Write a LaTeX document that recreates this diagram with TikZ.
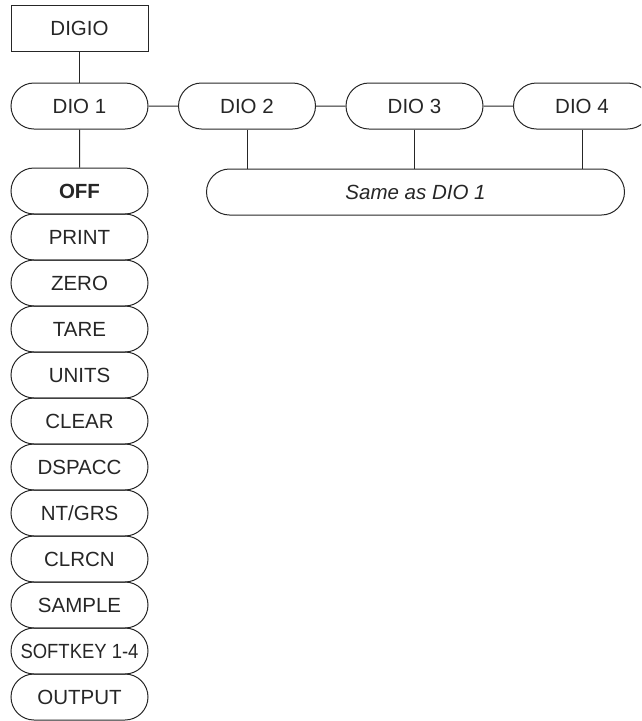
\documentclass[tikz,border=0pt]{standalone}
\usepackage{fontspec}
\setmainfont{Liberation Sans}
\usetikzlibrary{shapes.misc}
\begin{document}
\begin{tikzpicture}[x=1pt,y=-1pt,
  lw/.style={line width=1pt, draw=black!85},
  pill/.style={lw, rounded rectangle, minimum width=137pt, minimum height=46pt, inner sep=0pt,
    font=\fontsize{20.5}{24}\selectfont, text=black!85},
  sqbox/.style={lw, rectangle, minimum width=137pt, minimum height=46pt, inner sep=0pt,
    font=\fontsize{20.5}{24}\selectfont, text=black!85},
  conn/.style={lw}]
\useasboundingbox (0,0) rectangle (641,721);
\clip (0,0) rectangle (641,721);
\node[sqbox] (digio) at (79.5,28) {DIGIO};
\node[pill] (dio1) at (79.5,106) {DIO 1};
\node[pill] (dio2) at (247,106) {DIO 2};
\node[pill] (dio3) at (414.5,106) {DIO 3};
\node[pill] (dio4) at (582,106) {DIO 4};
\node[pill, minimum width=418pt] (same) at (415.5,192) {\itshape Same as DIO 1};
\node[pill] (off) at (79.5,191) {\bfseries OFF};
\node[pill] (print) at (79.5,237) {PRINT};
\node[pill] (zero) at (79.5,283) {ZERO};
\node[pill] (tare) at (79.5,329) {TARE};
\node[pill] (units) at (79.5,375) {UNITS};
\node[pill] (clear) at (79.5,421) {CLEAR};
\node[pill] (dspacc) at (79.5,467) {DSPACC};
\node[pill] (ntgrs) at (79.5,513) {NT/GRS};
\node[pill] (clrcn) at (79.5,559) {CLRCN};
\node[pill] (sample) at (79.5,605) {SAMPLE};
\node[pill] (softkey) at (79.5,651) {\scalebox{0.9}[1]{SOFTKEY 1-4}};
\node[pill] (output) at (79.5,697) {OUTPUT};
\draw[conn] (digio) -- (dio1);
\draw[conn] (dio1) -- (off);
\draw[conn] (dio1) -- (dio2);
\draw[conn] (dio2) -- (dio3);
\draw[conn] (dio3) -- (dio4);
\draw[conn] (dio2.south) -- (dio2.south |- same.north);
\draw[conn] (dio3.south) -- (dio3.south |- same.north);
\draw[conn] (dio4.south) -- (dio4.south |- same.north);
\end{tikzpicture}
\end{document}
